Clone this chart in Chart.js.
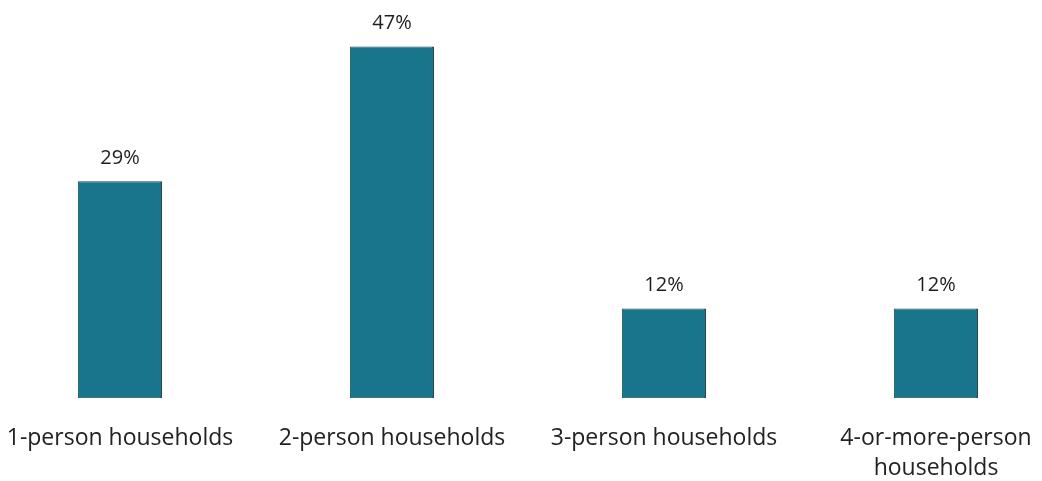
<!DOCTYPE html>
<html>
<head>
<meta charset="utf-8">
<script src="https://cdn.jsdelivr.net/npm/chart.js@4/dist/chart.umd.min.js"></script>
<style>
  html, body { margin: 0; padding: 0; background: #fff; overflow: hidden; height: 481px; }
  #wrap { position: relative; width: 1088px; height: 502px; margin-left: -16px; }
</style>
</head>
<body>
<div id="wrap"><canvas id="householdChart"></canvas></div>
<script>
// Données
const categories = ['1-person households', '2-person households', '3-person households', ['4-or-more-person', 'households']];
const shares = [29, 47, 12, 12];

// Étiquettes au-dessus des barres
const valueLabels = {
    id: 'valueLabels',
    afterDatasetsDraw(chart) {
        const ctx = chart.ctx;
        const meta = chart.getDatasetMeta(0);
        ctx.save();
        ctx.font = '20px "Open Sans", sans-serif';
        ctx.fillStyle = '#1e1e1e';
        ctx.textAlign = 'center';
        ctx.textBaseline = 'bottom';
        meta.data.forEach((bar, i) => {
            ctx.fillText(shares[i] + '%', bar.x, bar.y - 13);
        });
        ctx.restore();
    }
};

const ctx = document.getElementById('householdChart').getContext('2d');
new Chart(ctx, {
    type: 'bar',
    data: {
        labels: categories,
        datasets: [{
            data: shares,
            backgroundColor: '#18758b',
            borderColor: '#124f60',
            borderWidth: { left: 1, right: 2, top: 1, bottom: 1 },
            borderSkipped: false,
            categoryPercentage: 1,
            barPercentage: 0.31
        }]
    },
    options: {
        responsive: true,
        maintainAspectRatio: false,
        animation: false,
        layout: { padding: { top: 24, bottom: 2 } },
        plugins: {
            legend: { display: false },
            tooltip: { enabled: false }
        },
        scales: {
            x: {
                grid: { display: false },
                border: { display: false },
                ticks: {
                    color: '#222',
                    padding: 17,
                    maxRotation: 0,
                    autoSkip: false,
                    font: { family: '"Open Sans", sans-serif', size: 23, lineHeight: 1.3 }
                }
            },
            y: {
                display: false,
                min: 0,
                max: 50
            }
        }
    },
    plugins: [valueLabels]
});
</script>
</body>
</html>
